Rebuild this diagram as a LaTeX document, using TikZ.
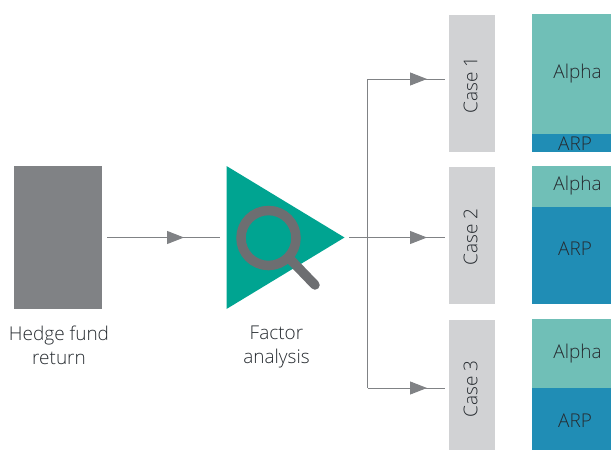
\documentclass[tikz,border=0pt]{standalone}
\usepackage{fontspec}
\setmainfont{Open Sans Light}
\usetikzlibrary{arrows.meta,decorations.markings,positioning}

\definecolor{fundgrey}{HTML}{808285}
\definecolor{lensgrey}{HTML}{6D6E71}
\definecolor{casegrey}{HTML}{D1D2D4}
\definecolor{factorteal}{HTML}{00A491}
\definecolor{alphateal}{HTML}{70BFB7}
\definecolor{arpblue}{HTML}{208DB5}
\definecolor{inktext}{HTML}{262B30}

\tikzset{
	box/.style={inner sep=0pt,outer sep=0pt},
	casebox/.style={box,fill=casegrey,minimum width=46pt},
	alphabox/.style={box,fill=alphateal,minimum width=79pt},
	arpbox/.style={box,fill=arpblue,minimum width=79pt},
	tag/.style={font=\fontsize{19}{24}\selectfont,text=inktext,inner sep=0pt},
	flow/.style={draw=fundgrey,line width=1pt,postaction={decorate},
		decoration={markings,mark=at position #1 with {\arrow{Triangle[length=17pt,width=13pt]}}}},
	lens/.style={draw=lensgrey,line width=9.5pt,line cap=round}
}

\begin{document}
\begin{tikzpicture}[x=1pt,y=-1pt]
	\useasboundingbox (0,0) rectangle (611,450);

	\node[box,fill=fundgrey,minimum width=88pt,minimum height=143pt] (hedge) at (58,237.5) {};
	\node[tag,align=center] (hedgetag) at (59,345.5) {Hedge fund\\return};

	\node[box,minimum width=118pt,minimum height=143pt] (factor) at (285.5,237.5) {};
	\fill[factorteal] (factor.north west) -- (factor.east) -- (factor.south west) -- cycle;
	\draw[lens] (268.5,238) circle (27.5);
	\draw[lens] (289,258) -- (315,285);
	\node[tag,align=center] (factortag) at (276.5,346.5) {Factor\\analysis};

	\node[casebox,minimum height=137pt] (case1) at (472,83.5) {};
	\node[casebox,minimum height=137pt] (case2) at (472,235.5) {};
	\node[casebox,minimum height=130pt] (case3) at (472,385) {};
	\node[tag,rotate=90] (casetag1) at (470.5,85) {Case 1};
	\node[tag,rotate=90] (casetag2) at (470.5,237) {Case 2};
	\node[tag,rotate=90] (casetag3) at (470.5,389) {Case 3};

	\node[alphabox,minimum height=120pt] (alpha1) at (571.5,74) {};
	\node[arpbox,minimum height=18pt,below=0pt of alpha1] (arp1) {};
	\node[alphabox,minimum height=41pt] (alpha2) at (571.5,186.5) {};
	\node[arpbox,minimum height=97pt,below=0pt of alpha2] (arp2) {};
	\node[alphabox,minimum height=69pt] (alpha3) at (571.5,353.5) {};
	\node[arpbox,minimum height=62pt,below=0pt of alpha3] (arp3) {};

	\node[tag] (alphatag1) at (577.5,74) {Alpha};
	\node[tag] (arptag1) at (575,143.5) {ARP};
	\node[tag] (alphatag2) at (577.5,186) {Alpha};
	\node[tag] (arptag2) at (575,248.5) {ARP};
	\node[tag] (alphatag3) at (577.5,354) {Alpha};
	\node[tag] (arptag3) at (575,420.5) {ARP};

	\coordinate (branch1) at (367.5,79);
	\coordinate (branch3) at (367.5,388);
	\coordinate (end1) at (445,79);
	\coordinate (end2) at (445,237.5);
	\coordinate (end3) at (445,388);

	\draw[flow=-42.5pt,shorten <=5pt,shorten >=6.5pt] (hedge.east) -- (factor.west);
	\draw[flow=-18pt,shorten <=4.5pt] (factor.east) -- (end2);
	\draw[draw=fundgrey,line width=1pt] (branch1) -- (branch3);
	\draw[flow=-18pt] (branch1) -- (end1);
	\draw[flow=-18pt] (branch3) -- (end3);
\end{tikzpicture}
\end{document}
